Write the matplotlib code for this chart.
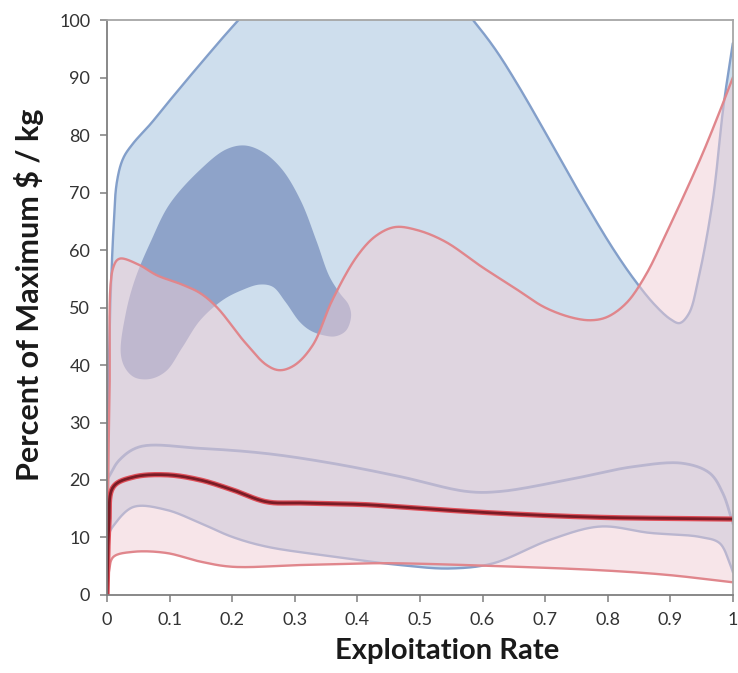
import numpy as np
import matplotlib
matplotlib.use("Agg")
import matplotlib.pyplot as plt

# ---------------- data ----------------
blue_top_x = [0, 0.004, 0.01, 0.016, 0.026, 0.042, 0.07, 0.1, 0.15, 0.21, 0.3, 0.4, 0.5,
              0.585, 0.62, 0.655, 0.708, 0.76, 0.81, 0.845, 0.875, 0.9, 0.915, 0.93, 0.945,
              0.968, 0.985, 1.0]
blue_top_y = [20, 45, 63, 72, 76, 78.6, 82, 86, 92.5, 100, 110, 114, 111,
              100, 95, 89, 79, 69, 60, 54.5, 50.5, 48, 47.3, 49, 55,
              68.7, 85, 96]

blue_low_x = [0, 0.01, 0.042, 0.095, 0.149, 0.2, 0.255, 0.36, 0.468, 0.548, 0.617, 0.708,
              0.788, 0.867, 0.947, 0.979, 0.995, 1.0]
blue_low_y = [10, 12, 15.3, 14.8, 12.5, 10.1, 8.4, 6.7, 5.2, 4.6, 5.5, 9.6,
              11.9, 10.8, 10.1, 9, 5.5, 4]

blue_mid_x = [0, 0.02, 0.053, 0.149, 0.255, 0.36, 0.468, 0.575, 0.628, 0.735, 0.84, 0.92,
              0.963, 0.984, 1.0]
blue_mid_y = [20, 23.5, 25.8, 25.5, 24.6, 22.9, 20.6, 18, 18, 20, 22.3, 22.9,
              21.2, 17.7, 12.5]

blob_x = [0.022, 0.03, 0.045, 0.07, 0.1, 0.149, 0.19, 0.22, 0.25, 0.28, 0.31, 0.335,
          0.355, 0.372, 0.386, 0.39, 0.382, 0.365, 0.345, 0.325, 0.308, 0.285, 0.265,
          0.244, 0.215, 0.185, 0.149, 0.12, 0.095, 0.07, 0.045, 0.03]
blob_y = [42, 49, 55, 61.5, 68, 74, 77.5, 78.2, 77, 74, 68.5, 61.5,
          55.5, 52.5, 50.5, 48.5, 46, 45, 45.2, 46, 47.5, 51, 53.6,
          54, 53, 51.3, 47.8, 43, 39, 37.6, 37.8, 39.3]

pink_top_x = [0, 0.004, 0.01, 0.02, 0.05, 0.08, 0.12, 0.149, 0.176, 0.22, 0.255, 0.276, 0.3,
              0.329, 0.36, 0.4, 0.43, 0.46, 0.495, 0.54, 0.6, 0.65, 0.7, 0.745, 0.775, 0.8,
              0.83, 0.86, 0.894, 0.947, 0.975, 1.0]
pink_top_y = [0, 35, 57, 58.5, 57.5, 55.6, 54, 52.5, 50, 44, 40, 39.1, 40,
              43.5, 51.3, 59, 62.5, 64, 63.5, 61.5, 57, 53.5, 50, 48.2, 47.8, 48.4,
              50.8, 55.5, 63, 75.6, 83, 90]

pink_low_x = [0, 0.003, 0.01, 0.042, 0.095, 0.149, 0.2, 0.308, 0.415, 0.468, 0.628, 0.788,
              0.894, 1.0]
pink_low_y = [0, 4, 6.6, 7.5, 7.3, 5.8, 4.9, 5.2, 5.5, 5.5, 5, 4.3,
              3.5, 2.2]

red_mid_x = [0, 0.003, 0.01, 0.042, 0.095, 0.149, 0.2, 0.255, 0.308, 0.415, 0.468, 0.628,
             0.788, 1.0]
red_mid_y = [0, 12, 18.8, 20.5, 20.9, 20, 18.3, 16.2, 16, 15.7, 15.3, 14.2,
             13.5, 13.2]

x_ticks = [0, 0.1, 0.2, 0.3, 0.4, 0.5, 0.6, 0.7, 0.8, 0.9, 1]
x_tick_labels = ["0", "0.1", "0.2", "0.3", "0.4", "0.5", "0.6", "0.7", "0.8", "0.9", "1"]
y_ticks = [0, 10, 20, 30, 40, 50, 60, 70, 80, 90, 100]


# ---------------- smoothing (centripetal Catmull-Rom) ----------------
XS = 108.0


def smooth(xs, ys, n=24, closed=False):
    P = np.column_stack([np.asarray(xs, float) * XS, np.asarray(ys, float)])
    m = len(P)
    out = []
    segs = m if closed else m - 1
    for i in range(segs):
        if closed:
            p0, p1, p2, p3 = P[(i - 1) % m], P[i], P[(i + 1) % m], P[(i + 2) % m]
        else:
            p0 = P[i - 1] if i > 0 else 2 * P[0] - P[1]
            p1, p2 = P[i], P[i + 1]
            p3 = P[i + 2] if i + 2 < m else 2 * P[-1] - P[-2]
        t0 = 0.0
        t1 = t0 + np.linalg.norm(p1 - p0) ** 0.5 + 1e-6
        t2 = t1 + np.linalg.norm(p2 - p1) ** 0.5 + 1e-6
        t3 = t2 + np.linalg.norm(p3 - p2) ** 0.5 + 1e-6
        t = np.linspace(t1, t2, n)[:, None]
        A1 = (t1 - t) / (t1 - t0) * p0 + (t - t0) / (t1 - t0) * p1
        A2 = (t2 - t) / (t2 - t1) * p1 + (t - t1) / (t2 - t1) * p2
        A3 = (t3 - t) / (t3 - t2) * p2 + (t - t2) / (t3 - t2) * p3
        B1 = (t2 - t) / (t2 - t0) * A1 + (t - t0) / (t2 - t0) * A2
        B2 = (t3 - t) / (t3 - t1) * A2 + (t - t1) / (t3 - t1) * A3
        C = (t2 - t) / (t2 - t1) * B1 + (t - t1) / (t2 - t1) * B2
        out.append(C if i == 0 else C[1:])
    C = np.vstack(out)
    return C[:, 0] / XS, C[:, 1]


# ---------------- figure ----------------
fig = plt.figure(figsize=(7.38, 6.73), dpi=100)
ax = fig.add_axes([0.145, 0.116, 0.848, 0.854])

BLUE_FILL = "#cedeed"
BLOB_FILL = "#8ea3c9"
PINK_FILL = "#f1cdd5"
BLUE_LINE = "#839fca"
PINK_LINE = "#e0868c"

# blue band
bux, buy = smooth(blue_top_x, blue_top_y)
blx, bly = smooth(blue_low_x, blue_low_y)
ax.fill(np.concatenate([bux, blx[::-1]]), np.concatenate([buy, bly[::-1]]),
        color=BLUE_FILL, lw=0, zorder=1)

# dark blob
box, boy = smooth(blob_x, blob_y, closed=True)
ax.fill(box, boy, color=BLOB_FILL, lw=0, zorder=2)

# blue lines
bmx, bmy = smooth(blue_mid_x, blue_mid_y)
ax.plot(bux, buy, color=BLUE_LINE, lw=1.7, zorder=3, solid_capstyle="round")
ax.plot(blx, bly, color=BLUE_LINE, lw=1.7, zorder=3)
ax.plot(bmx, bmy, color=BLUE_LINE, lw=2.0, zorder=3)

# pink band
pux, puy = smooth(pink_top_x, pink_top_y)
plx, ply = smooth(pink_low_x, pink_low_y)
ax.fill(np.concatenate([pux, plx[::-1]]), np.concatenate([puy, ply[::-1]]),
        color=PINK_FILL, alpha=0.5, lw=0, zorder=4)
ax.plot(pux, puy, color=PINK_LINE, lw=1.7, zorder=5)
ax.plot(plx, ply, color=PINK_LINE, lw=1.7, zorder=5)

# median red line
rmx, rmy = smooth(red_mid_x, red_mid_y)
ax.plot(rmx, rmy, color="#e0505a", lw=3.8, zorder=6)
ax.plot(rmx, rmy, color="#7a1c26", lw=2.0, zorder=7)

ax.set_xlim(0, 1)
ax.set_ylim(0, 100)
ax.set_xticks(x_ticks)
ax.set_xticklabels(x_tick_labels)
ax.set_yticks(y_ticks)

for s in ["left", "bottom"]:
    ax.spines[s].set_color("#7f7f7f")
    ax.spines[s].set_linewidth(1.3)
for s in ["top", "right"]:
    ax.spines[s].set_color("#a6a6a6")
    ax.spines[s].set_linewidth(1.3)
for sp in ax.spines.values():
    sp.set_zorder(10)

ax.tick_params(axis="both", direction="out", length=5, width=1.1, color="#7f7f7f",
               labelsize=13, labelcolor="#333333", pad=7)
for lab in ax.get_xticklabels() + ax.get_yticklabels():
    lab.set_family("Lato")

ax.set_xlabel("Exploitation Rate", fontsize=21, fontweight="bold", family="Lato",
              color="#1a1a1a")
ax.set_ylabel("Percent of Maximum $ / kg", fontsize=22, fontweight="bold", family="Lato",
              color="#1a1a1a")
ax.xaxis.set_label_coords(0.543, -0.075, transform=ax.transAxes)
ax.yaxis.set_label_coords(-0.10, 0.523, transform=ax.transAxes)
ax.xaxis.label.set_va("top")

fig.savefig("out.png", dpi=100)
